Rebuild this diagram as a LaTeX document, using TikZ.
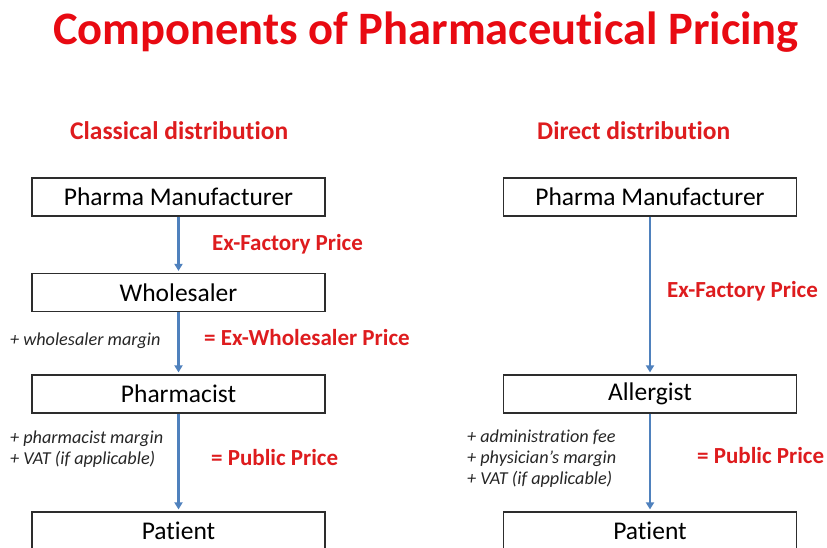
\documentclass[tikz,border=0pt]{standalone}
\usepackage{fontspec}
\setmainfont{Carlito}[Ligatures=NoCommon]
\usetikzlibrary{arrows.meta}
\definecolor{titlered}{RGB}{232,10,18}
\definecolor{labelred}{RGB}{222,28,30}
\definecolor{flowblue}{RGB}{79,129,189}
\definecolor{boxline}{RGB}{45,45,45}
\tikzset{
  stage/.style={draw=boxline, line width=1.2pt, fill=white, minimum width=293pt,
    minimum height=38pt, inner sep=0pt, font=\fontsize{25.5}{30}\selectfont},
  flow/.style={draw=flowblue, line width=2.6pt, shorten >=2pt,
    -{Triangle[width=8pt,length=7pt]}},
  price/.style={anchor=west, inner sep=0pt, text=labelred,
    font=\bfseries\fontsize{23}{27}\selectfont},
  heading/.style={anchor=west, inner sep=0pt, text=labelred,
    font=\bfseries\fontsize{25.5}{30}\selectfont},
  note/.style={anchor=west, inner sep=0pt, align=left,
    font=\itshape\fontsize{18.2}{21}\selectfont, text=black!85},
}
\begin{document}
\begin{tikzpicture}[x=1pt,y=-1pt]
\clip (0,0) rectangle (827,547);
\fill[white] (0,0) rectangle (827,547);

% title and column headings
\node[anchor=west, inner sep=0pt, text=titlered, font=\bfseries\fontsize{46.5}{52}\selectfont]
  (title) at (53,32) {Components of Pharmaceutical Pricing};
\node[heading] (hclassic) at (70,131) {Classical distribution};
\node[heading] (hdirect) at (537,131) {Direct distribution};

% classical chain
\node[stage] (manA) at (178.5,197) {Pharma Manufacturer};
\node[stage] (whole) at (178.5,292.5) {Wholesaler};
\node[stage] (pharm) at (178.5,394) {Pharmacist};
\node[stage] (patA) at (178.5,531) {Patient};

\draw[flow] (manA) -- (whole);
\draw[flow] (whole) -- (pharm);
\draw[flow] (pharm) -- (patA);

\node[price] (exfA) at (212,244) {Ex-Factory Price};
\node[price] (exw) at (204,338) {= Ex-Wholesaler Price};
\node[note] (wm) at (10,341) {+ wholesaler margin};
\node[note] (pm) at (10,449) {+ pharmacist margin\\+ VAT (if applicable)};
\node[price] (pubA) at (211,458) {= Public Price};

% direct chain
\node[stage] (manB) at (650,197) {Pharma Manufacturer};
\node[stage] (allerg) at (650,394) {\raisebox{-1pt}{Allergist}};
\node[stage] (patB) at (650,531) {Patient};

\draw[flow] (manB) -- (allerg);
\draw[flow] (allerg) -- (patB);

\node[price] (exfB) at (667,291) {Ex-Factory Price};
\node[note] (fees) at (467,459) {+ administration fee\\+ physician’s margin\\+ VAT (if applicable)};
\node[price] (pubB) at (697,456) {= Public Price};
\end{tikzpicture}
\end{document}
